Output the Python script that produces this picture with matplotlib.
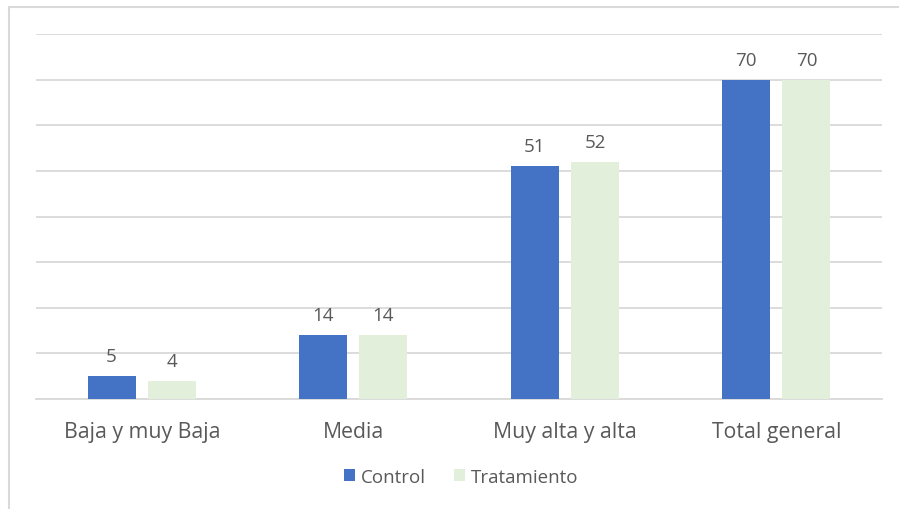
import matplotlib.pyplot as plt
import numpy as np
from matplotlib.patches import Rectangle

categories = ["Baja y muy Baja", "Media", "Muy alta y alta", "Total general"]
control = [5, 14, 51, 70]
tratamiento = [4, 14, 52, 70]
series_names = ["Control", "Tratamiento"]

blue = "#4472C4"
green = "#E2EFDA"
text_gray = "#595959"

plt.rcParams["font.family"] = ["Open Sans", "DejaVu Sans"]

fig = plt.figure(figsize=(8.99, 5.10), dpi=100)
ax = fig.add_axes([36 / 899, 1 - 400 / 510, (882 - 36) / 899, (400 - 35) / 510])

# chart border (only top and left visible in the crop)
fig.patches.append(Rectangle((9 / 899, -0.1), 1.2, 1.1 - 8 / 510,
                             transform=fig.transFigure, fill=False,
                             edgecolor="#d9d9d9", linewidth=1.5))

x = np.arange(len(categories))
w = 0.227
off = 0.143
b1 = ax.bar(x - off, control, w, color=blue, label=series_names[0], zorder=3)
b2 = ax.bar(x + off, tratamiento, w, color=green, label=series_names[1], zorder=3)

for bars in (b1, b2):
    for rect in bars:
        h = rect.get_height()
        ax.annotate(f"{h:g}", (rect.get_x() + rect.get_width() / 2, h),
                    xytext=(0, 8), textcoords="offset points",
                    ha="center", va="bottom", fontsize=13.5, color=text_gray)

ax.set_xlim(-0.5, len(categories) - 0.5)
ax.set_ylim(0, 80)
ax.set_yticks(np.arange(0, 81, 10))
ax.yaxis.grid(True, color="#d9d9d9", linewidth=1.3, zorder=0)
ax.tick_params(axis="y", left=False, labelleft=False)
ax.tick_params(axis="x", bottom=False, labelsize=15.3, labelcolor=text_gray, pad=12)
ax.set_xticks(x)
ax.set_xticklabels(categories)
for s in ["top", "right", "left"]:
    ax.spines[s].set_visible(False)
ax.spines["bottom"].set_color("#d9d9d9")
ax.spines["bottom"].set_linewidth(1.3)

leg = fig.legend(loc="center", bbox_to_anchor=(461 / 899, 1 - 478 / 510), ncol=2,
                 frameon=False, fontsize=13.5, handlelength=0.6, handleheight=0.6,
                 handletextpad=0.3, columnspacing=1.5, labelcolor=text_gray)

fig.savefig("out.png", dpi=100)
